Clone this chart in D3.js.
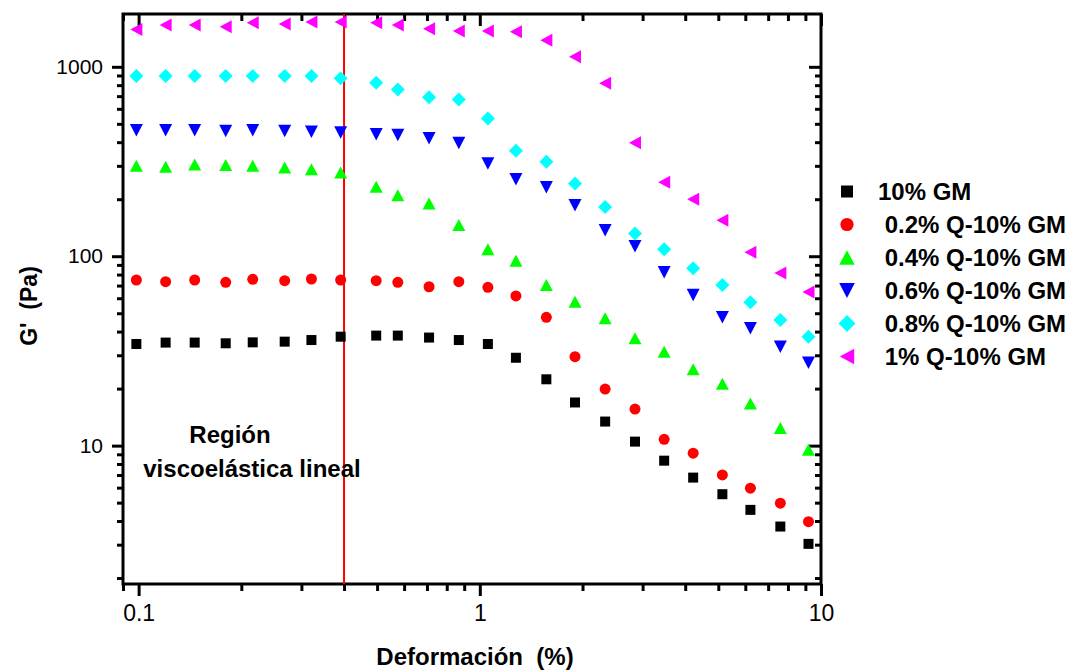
<!DOCTYPE html>
<html>
<head>
<meta charset="utf-8">
<script src="https://cdnjs.cloudflare.com/ajax/libs/d3/7.8.5/d3.min.js"></script>
<style>
  body { margin: 0; background: #fff; }
  text { font-family: "Liberation Sans", Arial, sans-serif; }
</style>
</head>
<body>
<div id="chart"></div>
<script>
// data
var strain = [0.0985, 0.120, 0.146, 0.180, 0.216, 0.268, 0.321, 0.391, 0.497, 0.575, 0.710, 0.868,
              1.056, 1.276, 1.567, 1.901, 2.33, 2.85, 3.47, 4.22, 5.14, 6.21, 7.60, 9.19];

var gm10 = [34.4, 35.0, 35.0, 34.7, 35.1, 35.4, 36.1, 37.6, 38.1, 38.1, 37.2, 36.1,
            34.4, 29.1, 22.4, 16.9, 13.4, 10.5, 8.33, 6.78, 5.54, 4.58, 3.74, 3.03];
var q02 = [74.9, 73.4, 74.9, 72.8, 75.5, 74.3, 75.8, 74.9, 74.3, 72.8, 69.0, 73.4,
           68.5, 61.7, 47.6, 29.5, 19.9, 15.6, 10.8, 9.12, 7.0, 5.96, 4.97, 3.97];
var q04 = [300, 297, 305, 303, 300, 294, 288, 277, 233, 210, 190, 146,
           108.7, 94.6, 70.5, 57.5, 47, 36.9, 31.3, 25.3, 21.2, 16.7, 12.4, 9.5];
var q06 = [462, 462, 462, 458, 462, 458, 454, 450, 441, 436, 419, 396,
           309, 255, 231, 186, 137, 113, 82.2, 62.4, 47.6, 41.7, 33.3, 27.4];
var q08 = [893, 893, 893, 893, 893, 893, 893, 869, 823, 760, 690, 673,
           534, 360, 315, 242, 182, 132, 108.7, 86.3, 70.5, 57.1, 46.1, 37.6];
var q10 = [1574, 1660, 1660, 1626, 1707, 1680, 1722, 1722, 1707, 1660, 1587, 1543,
           1543, 1530, 1383, 1129, 820, 397, 246, 200, 155, 105, 81.5, 64.7];

var seriesNames = ["10% GM", " 0.2% Q-10% GM", " 0.4% Q-10% GM", " 0.6% Q-10% GM", " 0.8% Q-10% GM", " 1% Q-10% GM"];
var seriesValues = [gm10, q02, q04, q06, q08, q10];
var seriesColors = ["#000000", "#ff0000", "#00ff00", "#0000ff", "#00ffff", "#ff00ff"];

var xMajor = [0.1, 1, 10];
var xMinor = [0.09, 0.2, 0.3, 0.4, 0.5, 0.6, 0.7, 0.8, 0.9, 2, 3, 4, 5, 6, 7, 8, 9];
var yMajor = [10, 100, 1000];
var yMinor = [2, 3, 4, 5, 6, 7, 8, 9, 20, 30, 40, 50, 60, 70, 80, 90, 200, 300, 400, 500, 600, 700, 800, 900];

var lvrLimit = 0.4; // end of the linear viscoelastic region

// set up
var svgWidth = 1074;
var svgHeight = 671;
var frame = { left: 123, right: 821, top: 14, bottom: 584 };

var svg = d3.select("#chart")
  .append("svg")
    .attr("width", svgWidth)
    .attr("height", svgHeight);

var xScale = d3.scaleLog().domain([0.09, 10]).range([frame.left, frame.right]);
var yScale = d3.scaleLog().domain([1.86, 1900]).range([frame.bottom, frame.top]);

// marker shapes, centred on their bounding box
var shapes = [
  { draw: function(c, s) { c.rect(-s, -s, 2 * s, 2 * s); } },
  { draw: function(c, s) { c.moveTo(s * 1.1, 0); c.arc(0, 0, s * 1.1, 0, 2 * Math.PI); } },
  { draw: function(c, s) { c.moveTo(0, -s * 1.2); c.lineTo(s * 1.3, s * 1.2); c.lineTo(-s * 1.3, s * 1.2); c.closePath(); } },
  { draw: function(c, s) { c.moveTo(0, s * 1.25); c.lineTo(s * 1.3, -s * 1.25); c.lineTo(-s * 1.3, -s * 1.25); c.closePath(); } },
  { draw: function(c, s) { c.moveTo(0, -s * 1.4); c.lineTo(s * 1.4, 0); c.lineTo(0, s * 1.4); c.lineTo(-s * 1.4, 0); c.closePath(); } },
  { draw: function(c, s) { c.moveTo(-s * 1.2, 0); c.lineTo(s * 1.2, -s * 1.3); c.lineTo(s * 1.2, s * 1.3); c.closePath(); } }
];

// axes: major and minor ticks, outside on bottom/left, inside on top/right
function styleAxis(g, fontSize) {
  g.select(".domain").remove();
  g.selectAll(".tick line").attr("stroke", "#000").attr("stroke-width", 3);
  g.selectAll(".tick text")
    .attr("fill", "#000")
    .style("font-size", fontSize + "px")
    .style("font-family", "'Liberation Sans', Arial, sans-serif");
}

svg.append("g")
  .attr("transform", "translate(0," + frame.bottom + ")")
  .call(d3.axisBottom(xScale).tickValues(xMajor).tickSize(12).tickPadding(9).tickFormat(d3.format("")))
  .call(styleAxis, 23);
svg.append("g")
  .attr("transform", "translate(0," + frame.bottom + ")")
  .call(d3.axisBottom(xScale).tickValues(xMinor).tickSize(7).tickFormat(""))
  .call(styleAxis, 23);
svg.append("g")
  .attr("transform", "translate(0," + frame.top + ")")
  .call(d3.axisTop(xScale).tickValues(xMajor).tickSize(-12).tickFormat(""))
  .call(styleAxis, 23);
svg.append("g")
  .attr("transform", "translate(0," + frame.top + ")")
  .call(d3.axisTop(xScale).tickValues(xMinor).tickSize(-7).tickFormat(""))
  .call(styleAxis, 23);

svg.append("g")
  .attr("transform", "translate(" + frame.left + ",0)")
  .call(d3.axisLeft(yScale).tickValues(yMajor).tickSize(11).tickPadding(9).tickFormat(d3.format("")))
  .call(styleAxis, 21);
svg.append("g")
  .attr("transform", "translate(" + frame.left + ",0)")
  .call(d3.axisLeft(yScale).tickValues(yMinor).tickSize(6).tickFormat(""))
  .call(styleAxis, 21);
svg.append("g")
  .attr("transform", "translate(" + frame.right + ",0)")
  .call(d3.axisRight(yScale).tickValues(yMajor).tickSize(-12).tickFormat(""))
  .call(styleAxis, 21);
svg.append("g")
  .attr("transform", "translate(" + frame.right + ",0)")
  .call(d3.axisRight(yScale).tickValues(yMinor).tickSize(-6).tickFormat(""))
  .call(styleAxis, 21);

// frame
svg.append("rect")
  .attr("x", frame.left)
  .attr("y", frame.top)
  .attr("width", frame.right - frame.left)
  .attr("height", frame.bottom - frame.top)
  .attr("fill", "none")
  .attr("stroke", "#000")
  .attr("stroke-width", 3);

// red line marking the linear region
svg.append("line")
  .attr("x1", xScale(lvrLimit))
  .attr("x2", xScale(lvrLimit))
  .attr("y1", frame.top)
  .attr("y2", frame.bottom)
  .attr("stroke", "#ff0000")
  .attr("stroke-width", 2);

// scatter points
seriesValues.forEach(function(vals, i) {
  svg.append("g")
    .selectAll("path")
    .data(vals)
    .enter()
    .append("path")
      .attr("transform", function(d, j) { return "translate(" + xScale(strain[j]) + "," + yScale(d) + ")"; })
      .attr("d", d3.symbol().type(shapes[i]).size(5))
      .attr("fill", seriesColors[i]);
});

// annotation
svg.append("text")
  .attr("x", 230)
  .attr("y", 443)
  .attr("text-anchor", "middle")
  .style("font-size", "24px")
  .style("font-weight", "bold")
  .text("Región");
svg.append("text")
  .attr("x", 252)
  .attr("y", 477)
  .attr("text-anchor", "middle")
  .style("font-size", "24px")
  .style("font-weight", "bold")
  .text("viscoelástica lineal");

// axis titles
svg.append("text")
  .attr("x", 475)
  .attr("y", 665)
  .attr("text-anchor", "middle")
  .style("font-size", "24px")
  .style("font-weight", "bold")
  .style("white-space", "pre")
  .text("Deformación  (%)");
svg.append("text")
  .attr("transform", "translate(37,306) rotate(-90)")
  .attr("text-anchor", "middle")
  .style("font-size", "23px")
  .style("font-weight", "bold")
  .style("white-space", "pre")
  .text("G'  (Pa)");

// legend
var legend = svg.append("g")
  .selectAll("g")
  .data(seriesNames)
  .enter()
  .append("g")
    .attr("transform", function(d, i) { return "translate(847," + (191.5 + i * 33) + ")"; });
legend.append("path")
  .attr("d", function(d, i) { return d3.symbol().type(shapes[i]).size(6)(); })
  .attr("fill", function(d, i) { return seriesColors[i]; });
legend.append("text")
  .attr("x", 31)
  .attr("y", 8)
  .style("font-size", "24px")
  .style("font-weight", "bold")
  .style("white-space", "pre")
  .text(function(d) { return d; });
</script>
</body>
</html>
